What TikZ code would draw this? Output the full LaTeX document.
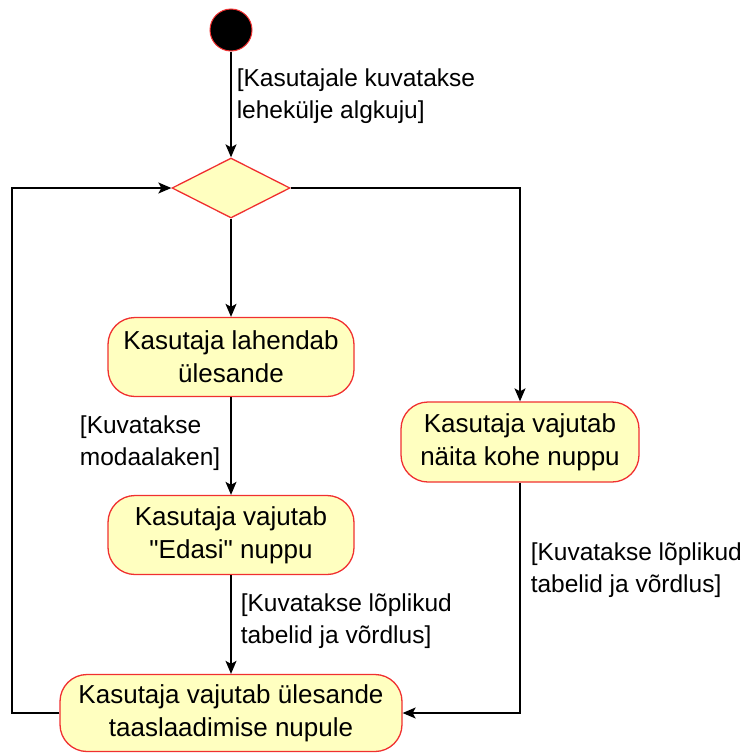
\documentclass[tikz,border=0pt]{standalone}
\usepackage{fontspec}
\setmainfont{Liberation Sans}[Ligatures=TeXOff]
\usetikzlibrary{arrows.meta,shapes.geometric,positioning}
\definecolor{actfill}{HTML}{FFFFC0}
\definecolor{actline}{HTML}{F03030}
\tikzset{
	activity/.style={draw=actline, fill=actfill, line width=1.3pt, rounded corners=27pt,
		align=center, font=\fontsize{26}{33}\selectfont, inner sep=0pt},
	guard/.style={align=left, font=\fontsize{24.5}{32}\selectfont, inner sep=0pt},
	flow/.style={line width=1.5pt, -{Stealth[length=13pt,width=11pt,inset=3pt]}},
}

\begin{document}
\begin{tikzpicture}[x=1pt,y=-1pt]
		\useasboundingbox (0,0) rectangle (746,755);

		\node[circle, draw=actline, fill=black, line width=1pt, minimum size=42pt, inner sep=0pt] (start) at (231,30) {};
		\node[diamond, draw=actline, fill=actfill, line width=1.3pt, minimum width=118pt, minimum height=60pt, inner sep=0pt] (choice) at (231,188) {};

		\node[activity, minimum width=246pt, minimum height=79pt] (solve) at (231,357) {Kasutaja lahendab\\ülesande};
		\node[activity, minimum width=246pt, minimum height=79pt] (next) at (231,535) {Kasutaja vajutab\\"Edasi" nuppu};
		\node[activity, minimum width=238pt, minimum height=80pt] (show) at (520,442) {Kasutaja vajutab\\näita kohe nuppu};
		\node[activity, minimum width=342pt, minimum height=77pt] (reload) at (231,713) {Kasutaja vajutab ülesande\\taaslaadimise nupule};

		\coordinate (loopL) at (12,450);

		\draw[flow] (start) -- node[guard, pos=0.42, anchor=west, xshift=5pt] {[Kasutajale kuvatakse\\lehekülje algkuju]} (choice);
		\draw[flow] (choice) -- (solve);
		\draw[flow] (solve) -- node[guard, pos=0.47, anchor=east, xshift=-10pt] {[Kuvatakse\\modaalaken]} (next);
		\draw[flow] (next) -- node[guard, pos=0.47, anchor=west, xshift=9pt] {[Kuvatakse lõplikud\\tabelid ja võrdlus]} (reload);
		\draw[flow] (choice.east) -| (show.north);
		\draw[flow] (show.south) |- node[guard, pos=0.19, anchor=west, xshift=10pt] {[Kuvatakse lõplikud\\tabelid ja võrdlus]} (reload.east);
		\draw[flow] (reload.west) -| (loopL) |- (choice.west);
	\end{tikzpicture}
\end{document}
